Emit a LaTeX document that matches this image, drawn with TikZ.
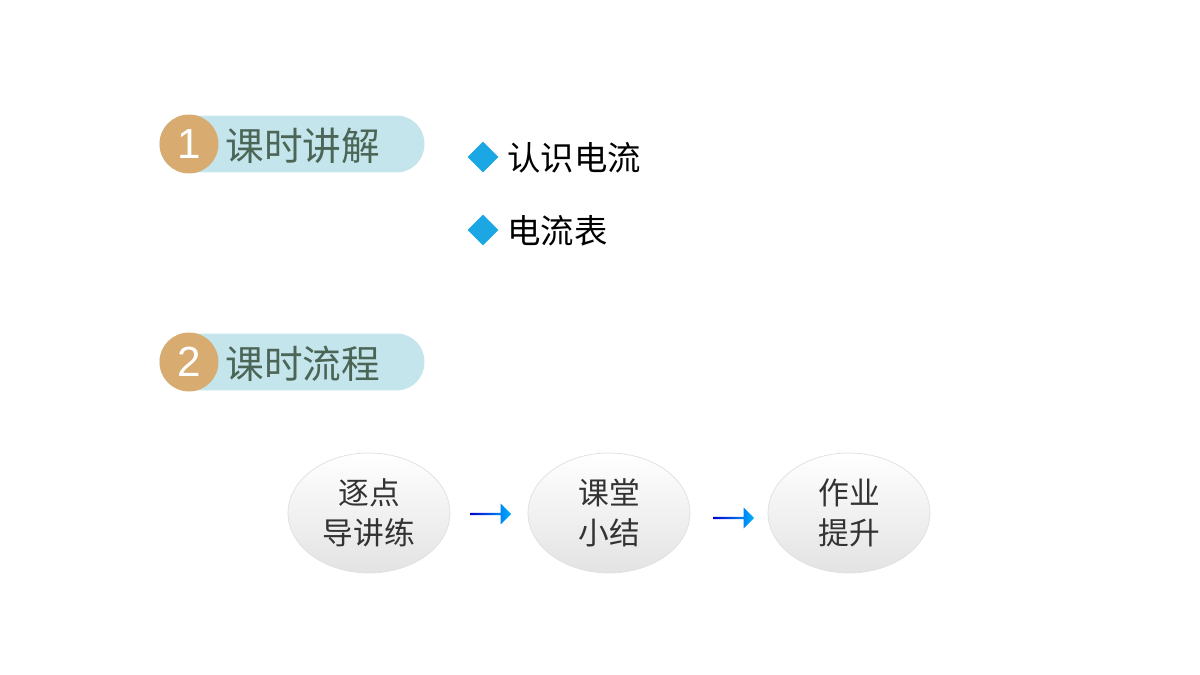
\documentclass[tikz,border=0pt]{standalone}
\usepackage{fontspec}
\newfontfamily\cjk{Noto Sans CJK SC}
\setmainfont{Liberation Sans}
\usetikzlibrary{shapes.geometric,shapes.arrows}
\definecolor{pill}{HTML}{C4E5EC}
\definecolor{tan}{HTML}{D8AC70}
\definecolor{hdtext}{HTML}{4B6656}
\definecolor{cyanb}{HTML}{1AA7E3}
\begin{document}
\begin{tikzpicture}[x=0.02cm,y=-0.02cm,
  pillbox/.style={rounded corners=0.56cm,fill=pill,minimum width=5.3cm,minimum height=1.14cm,inner sep=0},
  badge/.style={circle,fill=tan,minimum size=1.18cm,inner sep=0,text=white,font=\fontsize{24}{24}\selectfont},
  hdt/.style={text=hdtext,font=\cjk\fontsize{22}{22}\selectfont,anchor=west,inner sep=0},
  bul/.style={diamond,fill=cyanb,minimum size=0.62cm,inner sep=0},
  bult/.style={font=\cjk\fontsize{19}{19}\selectfont,anchor=west,inner sep=0},
  oval/.style={ellipse,minimum width=3.24cm,minimum height=2.4cm,draw=gray!25,top color=white,bottom color=gray!22,align=center,font=\cjk\fontsize{17.5}{23}\selectfont,text=black!80},
  arr/.style={single arrow,minimum height=0.82cm,minimum width=0.42cm,single arrow head extend=0.06cm,inner sep=0,left color=blue!80!black,right color=cyan!70!blue,draw=none}]
\useasboundingbox (0,0) rectangle (1200,675);
% header 1
\node[pillbox] (p1) at (292,144) {};
\node[badge] (b1) at (189,144) {1};
\node[hdt] (t1) at (225,146) {课时讲解};
\node[bul] (d1) at (483,157) {};
\node[bult] (s1) at (507,158) {认识电流};
\node[bul] (d2) at (483,230) {};
\node[bult] (s2) at (507,231) {电流表};
% header 2
\node[pillbox] (p2) at (292,362) {};
\node[badge] (b2) at (189,362) {2};
\node[hdt] (t2) at (225,364) {课时流程};
% flow
\node[oval] (o1) at (369,513) {逐点\\导讲练};
\node[oval] (o2) at (609,513) {课堂\\小结};
\node[oval] (o3) at (849,513) {作业\\提升};
\node[arr] (a1) at (490,514) {};
\node[arr] (a2) at (733,518) {};
\end{tikzpicture}
\end{document}
